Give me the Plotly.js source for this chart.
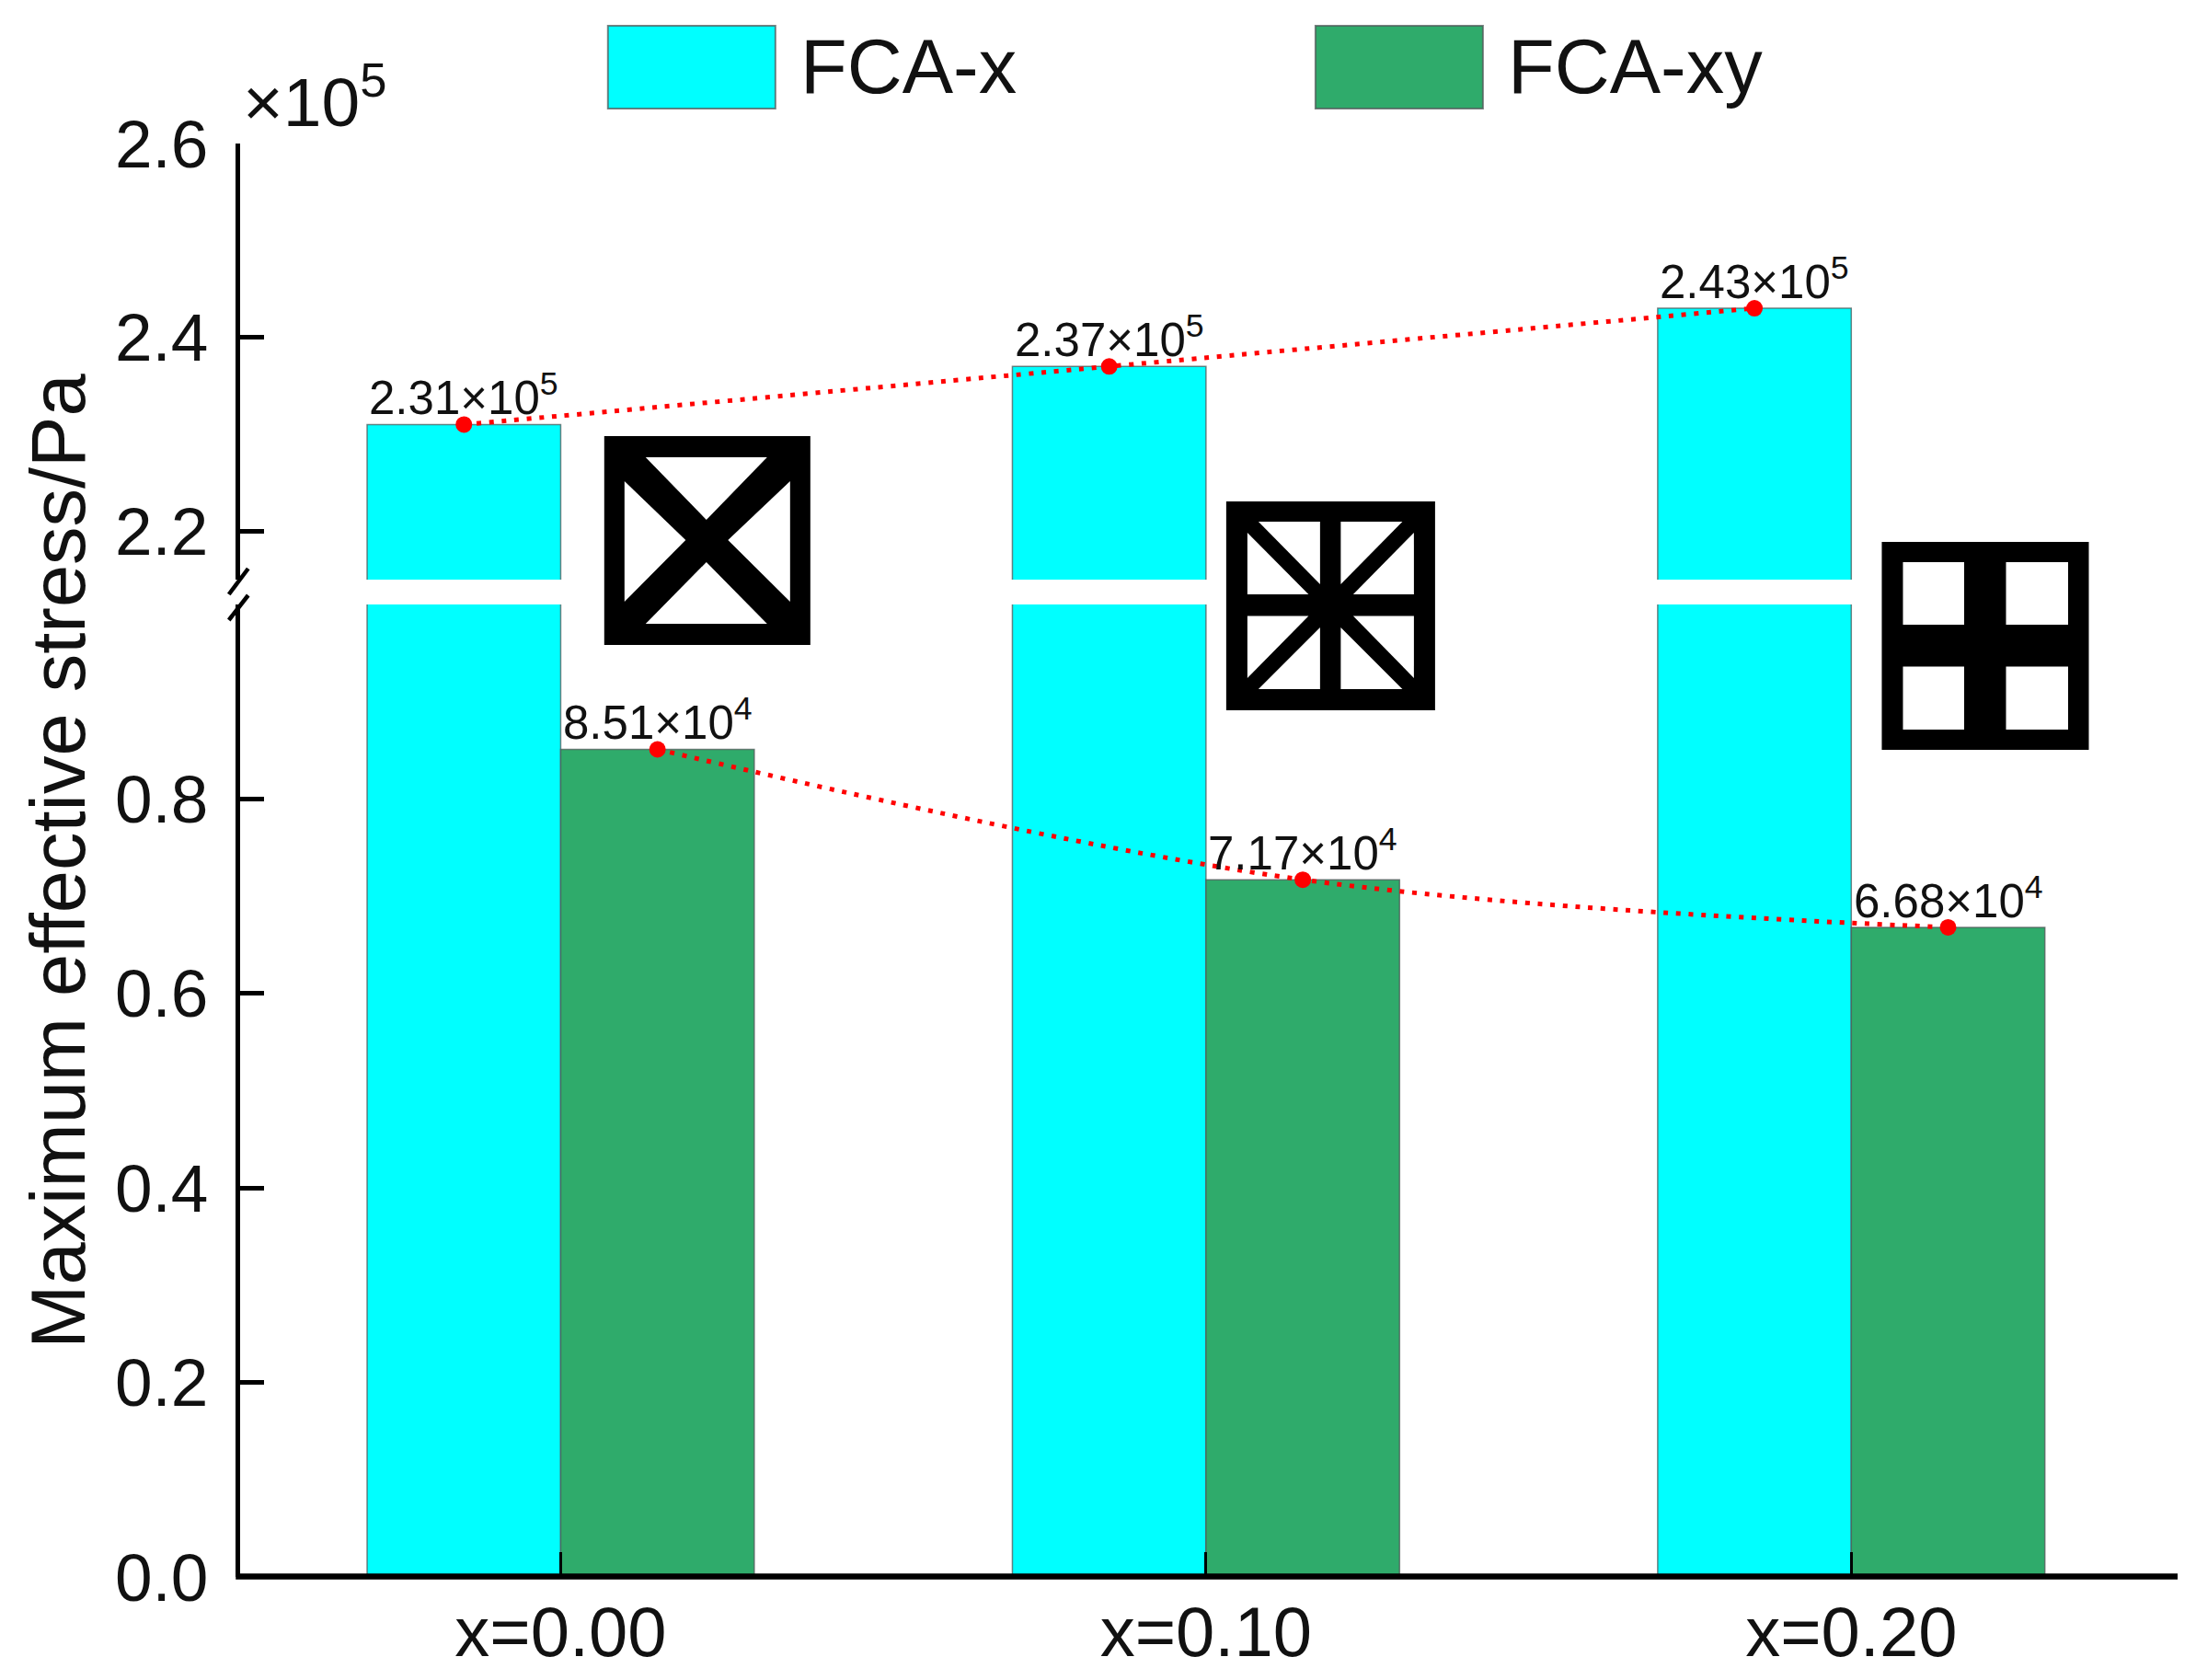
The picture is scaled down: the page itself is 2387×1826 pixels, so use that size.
<!DOCTYPE html>
<html><head><meta charset="utf-8">
<script src="https://cdn.plot.ly/plotly-3.0.1.min.js"></script>
<style>html,body{margin:0;padding:0;background:#fff}</style></head>
<body><div id="chart" style="width:2387px;height:1826px"></div>
<script>
// Data (values in units of 10^5 Pa)
const groups = [0, 1, 2];
const groupLabels = ['x=0.00', 'x=0.10', 'x=0.20'];
const fcaX = [2.31, 2.37, 2.43];
const fcaXY = [0.851, 0.717, 0.668];
const fcaXLabels = ['2.31×10<sup>5</sup>', '2.37×10<sup>5</sup>', '2.43×10<sup>5</sup>'];
const fcaXYLabels = ['8.51×10<sup>4</sup>', '7.17×10<sup>4</sup>', '6.68×10<sup>4</sup>'];
const lowerTicks = [0, 0.2, 0.4, 0.6, 0.8];
const lowerTickText = ['0.0', '0.2', '0.4', '0.6', '0.8'];
const upperTicks = [2.2, 2.4, 2.6];
const upperTickText = ['2.2', '2.4', '2.6'];

// Layout in page pixels
const W = 2387, H = 1826, L = 261.25, R = 2363, T = 156, B = 1714;
const px = x => (x - L) / (R - L);
const py = y => (B - y) / (B - T);
const FONT = 'Liberation Sans, Arial, sans-serif';
const CYAN = '#00FFFF', GREEN = '#2FAB6B', EDGE = 'rgba(80,90,90,0.75)';
const halfBar = 0.15;

function barTrace(name, y, color, yaxis) {
  return {type: 'bar', name, x: groups, y, yaxis, xaxis: 'x', showlegend: false,
    marker: {color, line: {color: EDGE, width: 1.5}}};
}
function lineTrace(name, offset, y, yaxis) {
  return {type: 'scatter', mode: 'lines+markers', name, showlegend: false,
    x: groups.map(g => g + offset), y, yaxis, xaxis: 'x', cliponaxis: false,
    line: {color: '#FF0000', width: 5, dash: '5px,8.7px', shape: 'spline', smoothing: 1},
    marker: {color: '#FF0000', size: 18}};
}
const data = [
  barTrace('FCA-x', fcaX, CYAN, 'y'), barTrace('FCA-xy', fcaXY, GREEN, 'y'),
  barTrace('FCA-x', fcaX, CYAN, 'y2'), barTrace('FCA-xy', fcaXY, GREEN, 'y2'),
  lineTrace('FCA-x peak', -halfBar, fcaX, 'y2'),
  lineTrace('FCA-xy peak', halfBar, fcaXY, 'y')
];

const shapes = [];
const poly = (pts, color) => shapes.push({type: 'path', xref: 'paper', yref: 'paper', layer: 'above',
  fillcolor: color, line: {width: 0},
  path: 'M' + pts.map(p => px(p[0]) + ',' + py(p[1])).join('L') + 'Z'});
const rect = (x0, y0, x1, y1, color, edge) => shapes.push({type: 'rect', xref: 'paper', yref: 'paper', layer: 'above',
  x0: px(x0), x1: px(x1), y0: py(y0), y1: py(y1), fillcolor: color,
  line: edge ? {color: edge, width: 2} : {width: 0}});
const seg = (x0, y0, x1, y1, width) => shapes.push({type: 'line', xref: 'paper', yref: 'paper', layer: 'above',
  x0: px(x0), x1: px(x1), y0: py(y0), y1: py(y1), line: {color: '#000', width: width || 4.5}});

// axis break marks
seg(270, 618, 249, 646); seg(270, 647, 249, 674);

// x axis line, centred on the zero level
seg(256.5, 1713.5, 2367, 1713.5, 6.5);

// legend swatches
rect(661, 28, 843, 118, CYAN, EDGE);
rect(1430, 28, 1612, 118, GREEN, EDGE);

// icon 1: crossed diagonals
rect(657, 474, 881, 701, '#000');
[[[702,497],[834,497],[768,565]],
 [[679,523],[745.5,587],[679,654]],
 [[859,523],[791.5,587],[859,654]],
 [[702,678],[834,678],[768,611]]].forEach(t => poly(t, '#fff'));

// icon 2: diagonals plus cross
rect(1333, 545, 1560, 772, '#000');
[[[1368,567],[1435,567],[1435,635]], [[1356,579],[1356,646],[1422.5,646]],
 [[1457.5,567],[1524.5,567],[1457.5,635]], [[1537,579],[1537,646],[1471,646]],
 [[1356,669.5],[1422.5,669.5],[1356,737]], [[1435,682],[1435,749],[1368,749]],
 [[1537,669.5],[1471,669.5],[1537,737]], [[1457.5,682],[1457.5,749],[1524.5,749]]
].forEach(t => poly(t, '#fff'));

// icon 3: cross
rect(2045.5, 589, 2270.5, 815, '#000');
rect(2068.5, 611, 2135, 679, '#fff');
rect(2180.5, 611, 2248, 679, '#fff');
rect(2068.5, 724.5, 2135, 793, '#fff');
rect(2180.5, 724.5, 2248, 793, '#fff');

const note = (text, x, y, size, extra) => Object.assign({text, x: px(x), y: py(y), xref: 'paper', yref: 'paper',
  showarrow: false, xanchor: 'left', yanchor: 'middle', font: {family: FONT, size, color: '#111'}}, extra || {});
const valueNote = (text, x, y, yref) => ({text, x, y, xref: 'x', yref, showarrow: false, xanchor: 'center',
  yanchor: 'bottom', yshift: -2, font: {family: FONT, size: 51, color: '#111'}});
const annotations = [
  note('FCA-x', 868, 73, 83),
  note('FCA-xy', 1637, 73, 83),
  note('×10<sup>5</sup>', 262, 105, 75),
  note('Maximum effective stress/Pa', 63, 936, 83, {textangle: -90, xanchor: 'center'})
].concat(
  groups.map((g, i) => valueNote(fcaXLabels[i], g - halfBar, fcaX[i], 'y2')),
  groups.map((g, i) => valueNote(fcaXYLabels[i], g + halfBar, fcaXY[i], 'y'))
);

const axisBase = {showline: true, linecolor: '#000', linewidth: 5, ticks: 'inside', ticklen: 26, tickwidth: 5,
  tickcolor: '#000', showgrid: false, zeroline: false, tickfont: {family: FONT, size: 73, color: '#111'},
  tickmode: 'array', anchor: 'x', ticklabelstandoff: 15};

const layout = {
  width: W, height: H, paper_bgcolor: '#fff', plot_bgcolor: '#fff', showlegend: false,
  margin: {l: L, r: W - R, t: T, b: H - B, pad: 0},
  barmode: 'group', bargap: 0.4, bargroupgap: 0,
  xaxis: {range: [-0.5 + 2.25 / 701, 2.5], showline: false, ticks: 'inside', ticklen: 27, tickwidth: 3,
    tickcolor: '#000', tickmode: 'array', tickvals: groups, ticktext: groupLabels, showgrid: false, zeroline: false,
    tickfont: {family: FONT, size: 76, color: '#111'}, anchor: 'y', ticklabelstandoff: 9},
  yaxis: Object.assign({}, axisBase, {domain: [0, py(657)], range: [0, 1.0], tickvals: lowerTicks, ticktext: lowerTickText}),
  yaxis2: Object.assign({}, axisBase, {domain: [py(630), 1], range: [2.15, 2.6], tickvals: upperTicks, ticktext: upperTickText}),
  shapes, annotations
};
Plotly.newPlot('chart', data, layout, {displayModeBar: false, staticPlot: true});
</script></body></html>
